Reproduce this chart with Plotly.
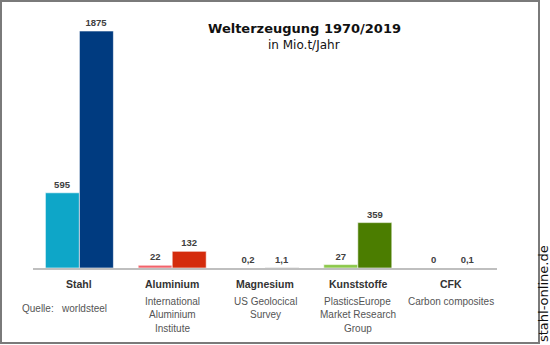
import plotly.graph_objects as go

categories = ["Stahl", "Aluminium", "Magnesium", "Kunststoffe", "CFK"]
sources = [
    ["Quelle:\u00a0\u00a0\u00a0worldsteel"],
    ["International", "Aluminium", "Institute"],
    ["US Geolocical", "Survey"],
    ["PlasticsEurope", "Market Research", "Group"],
    ["Carbon composites"],
]
values_1970 = [595, 22, 0.2, 27, 0]
values_2019 = [1875, 132, 1.1, 359, 0.1]
labels_1970 = ["595", "22", "0,2", "27", "0"]
labels_2019 = ["1875", "132", "1,1", "359", "0,1"]
colors_1970 = ["#0ea6c8", "#f2636b", "#9a9a9a", "#8cc84b", "#555555"]
colors_2019 = ["#003b80", "#d42b0c", "#5a5a5a", "#4b7d00", "#111111"]

SANS = "Liberation Sans, Arial, sans-serif"
VERDANA = "DejaVu Sans, Verdana, sans-serif"

fig = go.Figure()
for vals, labs, cols, name in [(values_1970, labels_1970, colors_1970, "1970"),
                               (values_2019, labels_2019, colors_2019, "2019")]:
    fig.add_trace(go.Bar(
        x=categories, y=vals, name=name,
        marker=dict(color=cols, line=dict(color="white", width=0.6)),
        text=labs, textposition="outside", cliponaxis=False,
        textfont=dict(family=SANS, size=9.5, color="#404040", weight="bold"),
    ))

BASE = 268  # pixel row of the baseline
annotations = []
for i, (cat, src) in enumerate(zip(categories, sources)):
    annotations.append(dict(
        x=cat, xref="x", y=0, yref="paper", yshift=-(284 - BASE), yanchor="middle",
        text="<b>" + cat + "</b>", showarrow=False,
        font=dict(family=SANS, size=10.5, color="#333333"),
    ))
    first = 308 if i == 0 else 301
    for k, line in enumerate(src):
        annotations.append(dict(
            x=cat, xref="x", y=0, yref="paper",
            yshift=-(first + 13.5 * k - BASE), yanchor="middle",
            xshift=-15 if i == 0 else 0,
            text=line, showarrow=False,
            font=dict(family=SANS, size=10, color="#555555"),
        ))

annotations += [
    dict(x=(304 - 33) / 464, y=(BASE - 29) / 248, xref="paper", yref="paper",
         text="<b>Welterzeugung 1970/2019</b>", showarrow=False,
         xanchor="center", yanchor="middle",
         font=dict(family=VERDANA, size=13, color="#111111")),
    dict(x=(304 - 33) / 464, y=(BASE - 45) / 248, xref="paper", yref="paper",
         text="in Mio.t/Jahr", showarrow=False,
         xanchor="center", yanchor="middle",
         font=dict(family=VERDANA, size=12, color="#111111")),
    dict(x=(543.5 - 33) / 464, y=(BASE - 343) / 248, xref="paper", yref="paper",
         text="stahl-online.de", showarrow=False, textangle=-90,
         xanchor="center", yanchor="bottom", borderpad=0,
         font=dict(family=VERDANA, size=13, color="#111111")),
]

fig.update_layout(
    width=550, height=345,
    margin=dict(l=33, r=53, t=20, b=77),
    paper_bgcolor="white", plot_bgcolor="white",
    barmode="group", bargap=0.267, bargroupgap=0,
    showlegend=False,
    xaxis=dict(showticklabels=False, ticks="", showgrid=False,
               range=[-0.5, 4.5], autorange=False,
               showline=True, linecolor="#bfbfbf", linewidth=1.5,
               zeroline=False, fixedrange=True),
    yaxis=dict(visible=False, range=[0, 248 / 0.1264], autorange=False,
               fixedrange=True),
    annotations=annotations,
    shapes=[dict(type="rect", xref="paper", yref="paper",
                 x0=(1 - 33) / 464, x1=(539 - 33) / 464,
                 y0=(BASE - 343) / 248, y1=(BASE - 1) / 248,
                 line=dict(color="#7a7a7a", width=2))],
)

fig.write_html("out.html", config={"displayModeBar": False})
